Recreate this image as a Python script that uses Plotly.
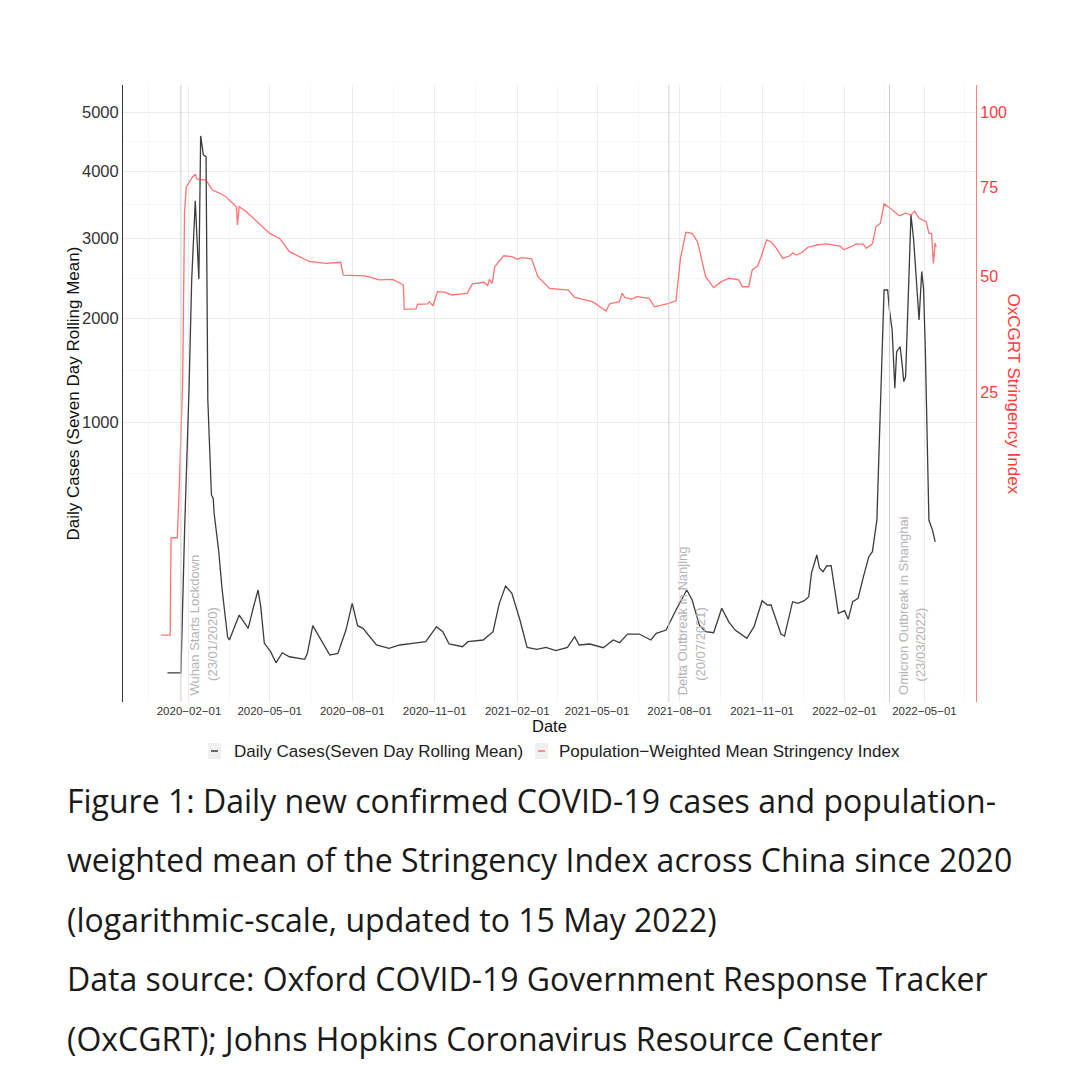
import numpy as np
import pandas as pd
import plotly.graph_objects as go

# ---------------- data ----------------
case_dates = [
    '2020-01-08', '2020-01-23', '2020-01-27', '2020-02-01', '2020-02-04', '2020-02-08',
    '2020-02-12', '2020-02-14', '2020-02-17', '2020-02-20', '2020-02-22', '2020-02-26',
    '2020-02-28', '2020-02-29', '2020-03-05', '2020-03-09', '2020-03-15', '2020-03-17',
    '2020-03-28', '2020-04-07', '2020-04-13', '2020-04-18', '2020-04-21', '2020-04-25',
    '2020-05-02', '2020-05-08', '2020-05-15', '2020-05-23', '2020-06-09', '2020-06-12',
    '2020-06-18', '2020-06-25', '2020-07-07', '2020-07-16', '2020-07-25', '2020-08-01',
    '2020-08-07', '2020-08-13', '2020-08-28', '2020-09-11', '2020-09-23', '2020-10-07',
    '2020-10-22', '2020-11-03', '2020-11-10', '2020-11-17', '2020-12-02', '2020-12-08',
    '2020-12-25', '2021-01-05', '2021-01-12', '2021-01-19', '2021-01-26', '2021-02-04',
    '2021-02-12', '2021-02-23', '2021-03-05', '2021-03-16', '2021-03-29', '2021-04-06',
    '2021-04-11', '2021-04-23', '2021-05-08', '2021-05-19', '2021-05-26', '2021-06-04',
    '2021-06-17', '2021-06-30', '2021-07-06', '2021-07-17', '2021-07-28', '2021-08-09',
    '2021-08-15', '2021-08-23', '2021-08-30', '2021-09-08', '2021-09-17', '2021-09-25',
    '2021-10-02', '2021-10-15', '2021-10-23', '2021-11-01', '2021-11-07', '2021-11-11',
    '2021-11-17', '2021-11-22', '2021-11-26', '2021-12-02', '2021-12-05', '2021-12-11',
    '2021-12-18', '2021-12-23', '2021-12-26', '2022-01-01', '2022-01-04', '2022-01-08',
    '2022-01-12', '2022-01-17', '2022-01-25', '2022-02-01', '2022-02-05', '2022-02-10',
    '2022-02-16', '2022-02-22', '2022-02-28', '2022-03-04', '2022-03-09', '2022-03-12',
    '2022-03-15', '2022-03-17', '2022-03-21', '2022-03-23', '2022-03-26', '2022-03-29',
    '2022-03-31', '2022-04-04', '2022-04-06', '2022-04-08', '2022-04-10', '2022-04-16',
    '2022-04-19', '2022-04-25', '2022-04-28', '2022-04-30', '2022-05-02', '2022-05-06',
    '2022-05-10', '2022-05-13',
]
case_values = [
    0, 0, 310, 1270, 2454, 3544,
    2462, 4583, 4264, 4236, 1183, 503,
    484, 405, 240, 109, 20.7, 17.1,
    53.1, 31.5, 69.5, 109, 69.5, 13.8,
    7.1, 1.6, 6.4, 4.1, 2.9, 6.0,
    35.3, 20.7, 5.0, 6.0, 29.1, 76.8,
    35.3, 31.5, 12.3, 9.5, 12.3, 13.8,
    15.4, 33.8, 26.9, 13.2, 10.8, 15.4,
    17.1, 26.9, 76.8, 119.8, 100.5, 44.3,
    10.3, 8.8, 10.3, 7.8, 10.3, 20.7,
    12.3, 13.2, 10.0, 17.1, 14.4, 23.9,
    23.9, 17.1, 24.8, 29.1, 62.7, 109,
    84.3, 36.3, 26.9, 25.6, 66.2, 41.0,
    29.1, 18.9, 33.8, 82.7, 73.1, 73.1,
    44.3, 23.9, 21.5, 59.4, 80.4, 76.8,
    82.7, 92.1, 157.4, 220.7, 173.7, 162.6,
    181.4, 182.4, 56.3, 61.3, 45.5, 80.4,
    88.3, 146.9, 214.4, 233.2, 371, 912,
    1640, 2330, 2330, 2093, 1869, 1287,
    1640, 1691, 1523, 1348, 1394, 3333,
    2979, 1979, 2559, 2351, 1657, 371,
    324, 273,
]

stringency_dates = [
    '2020-01-01', '2020-01-11', '2020-01-12', '2020-01-19', '2020-01-21', '2020-01-25',
    '2020-01-27', '2020-01-29', '2020-02-05', '2020-02-08', '2020-02-10', '2020-02-20',
    '2020-02-27', '2020-03-06', '2020-03-13', '2020-03-21', '2020-03-25', '2020-03-26',
    '2020-03-28', '2020-04-05', '2020-04-19', '2020-05-01', '2020-05-12', '2020-05-23',
    '2020-06-03', '2020-06-14', '2020-07-03', '2020-07-19', '2020-07-22', '2020-08-16',
    '2020-08-31', '2020-09-15', '2020-09-24', '2020-09-27', '2020-09-28', '2020-10-11',
    '2020-10-13', '2020-10-24', '2020-10-26', '2020-10-30', '2020-11-04', '2020-11-12',
    '2020-11-20', '2020-12-07', '2020-12-13', '2020-12-26', '2020-12-30', '2021-01-01',
    '2021-01-04', '2021-01-07', '2021-01-17', '2021-01-26', '2021-02-01', '2021-02-06',
    '2021-02-17', '2021-02-24', '2021-03-09', '2021-03-30', '2021-04-06', '2021-04-26',
    '2021-05-11', '2021-05-15', '2021-05-26', '2021-05-29', '2021-06-01', '2021-06-08',
    '2021-06-15', '2021-06-28', '2021-07-04', '2021-07-20', '2021-07-28', '2021-08-02',
    '2021-08-08', '2021-08-15', '2021-08-21', '2021-08-30', '2021-09-08', '2021-09-16',
    '2021-09-25', '2021-10-06', '2021-10-10', '2021-10-17', '2021-10-21', '2021-10-27',
    '2021-10-31', '2021-11-06', '2021-11-11', '2021-11-17', '2021-11-24', '2021-12-02',
    '2021-12-05', '2021-12-09', '2021-12-15', '2021-12-22', '2022-01-01', '2022-01-12',
    '2022-01-27', '2022-01-31', '2022-02-07', '2022-02-14', '2022-02-22', '2022-02-25',
    '2022-03-04', '2022-03-08', '2022-03-13', '2022-03-17', '2022-03-24', '2022-04-03',
    '2022-04-10', '2022-04-16', '2022-04-20', '2022-04-25', '2022-05-03', '2022-05-06',
    '2022-05-09', '2022-05-11', '2022-05-13', '2022-05-14',
]
stringency_values = [
    0.45, 0.45, 5.8, 5.8, 10.6, 27.3,
    67.2, 75.1, 78.2, 79.0, 77.5, 77.2,
    74.1, 73.2, 72.1, 70.1, 69.0, 63.8,
    69.1, 67.6, 64.3, 61.4, 60.0, 56.4,
    55.1, 53.8, 53.3, 53.6, 50.3, 50.1,
    49.1, 49.2, 48.2, 47.8, 42.0, 42.1,
    43.2, 43.3, 43.8, 42.8, 46.2, 46.1,
    45.4, 45.8, 48.1, 48.5, 47.7, 49.2,
    48.2, 52.5, 55.3, 55.1, 54.4, 54.8,
    54.5, 49.9, 47.0, 46.6, 44.8, 43.8,
    41.6, 43.3, 43.8, 45.8, 44.8, 44.4,
    45.0, 44.6, 42.6, 43.4, 44.0, 54.6,
    61.7, 61.4, 59.1, 49.9, 47.2, 48.6,
    49.5, 49.1, 47.4, 47.4, 51.6, 52.6,
    55.1, 59.6, 59.1, 57.3, 54.6, 55.3,
    56.1, 55.5, 56.1, 57.6, 58.2, 58.5,
    57.9, 56.9, 57.6, 58.5, 58.4, 57.3,
    58.5, 63.3, 64.3, 69.9, 68.6, 66.4,
    67.2, 66.7, 67.8, 65.7, 64.7, 61.4,
    61.4, 53.3, 58.7, 57.7,
]

event_dates = ['2020-01-23', '2021-07-20', '2022-03-23']
event_names = ['Wuhan Starts Lockdown', 'Delta Outbreak in Nanjing', 'Omicron Outbreak in Shanghai']
event_stamps = ['(23/01/2020)', '(20/07/2021)', '(23/03/2022)']

case_ticks = [1000, 2000, 3000, 4000, 5000]
stringency_ticks = [25, 50, 75, 100]
date_ticks = ['2020-02-01', '2020-05-01', '2020-08-01', '2020-11-01', '2021-02-01',
              '2021-05-01', '2021-08-01', '2021-11-01', '2022-02-01', '2022-05-01']

caption_lines = [
    'Figure 1: Daily new confirmed COVID-19 cases and population-',
    'weighted mean of the Stringency Index across China since 2020',
    '(logarithmic-scale, updated to 15 May 2022)',
    'Data source: Oxford COVID-19 Government Response Tracker',
    '(OxCGRT); Johns Hopkins Coronavirus Resource Center',
]

SEC = 50  # secondary axis: stringency = cases / 50, both on a square-root scale

# ---------------- geometry ----------------
# the page body adds an 8px offset, so the figure is drawn 8px smaller / shifted
BODY = 8
W = H = 1082 - BODY
ML, MT = 123 - BODY, 85 - BODY
PW, PH = 853, 617
MR, MB = W - ML - PW, H - MT - PH


def px(x):
    # screen pixel (reference) -> paper x
    return (x - BODY - ML) / PW


def py(y):
    # screen pixel (reference) -> paper y
    return (MT + PH - (y - BODY)) / PH


FONT = 'Liberation Sans, Arial, sans-serif'
RED_LINE = 'rgba(255,40,40,0.65)'
RED_TEXT = '#ff3a3a'
DARK = '#3c3c3c'

# sqrt transform (ggplot scale_y_sqrt)
y_cases = np.sqrt(np.array(case_values, dtype=float))
y_str = np.sqrt(np.array(stringency_values, dtype=float) * SEC)

major_sq = np.sqrt(np.array(case_ticks, dtype=float))
minor_sq = list((major_sq[:-1] + major_sq[1:]) / 2)
minor_sq = [major_sq[0] - (major_sq[1] - major_sq[0]) / 2] + minor_sq

dt = pd.to_datetime(date_ticks)
mids = [dt[i] + (dt[i + 1] - dt[i]) / 2 for i in range(len(dt) - 1)]
minor_dates = [dt[0] - (dt[1] - dt[0]) / 2] + mids + [dt[-1] + (dt[-1] - dt[-2]) / 2]

fig = go.Figure()
fig.add_trace(go.Scatter(
    x=pd.to_datetime(case_dates), y=y_cases, mode='lines',
    line=dict(color=DARK, width=1.3), name='Daily Cases(Seven Day Rolling Mean)',
    showlegend=False,
))
fig.add_trace(go.Scatter(
    x=pd.to_datetime(stringency_dates), y=y_str, mode='lines',
    line=dict(color=RED_LINE, width=1.3), name='Population\u2212Weighted Mean Stringency Index',
    showlegend=False,
))
# invisible trace to activate the right axis
fig.add_trace(go.Scatter(x=[None], y=[None], yaxis='y2', showlegend=False, hoverinfo='skip'))

yr = [-3.68, 74.12]
fig.update_layout(
    width=W, height=H,
    margin=dict(l=ML, r=MR, t=MT, b=MB),
    paper_bgcolor='white', plot_bgcolor='white',
    font=dict(family=FONT, color='#333'),
    xaxis=dict(
        type='date', range=['2019-11-19 10:00', '2022-06-27 12:00'],
        tickmode='array', tickvals=dt, ticktext=[d.replace('-', '\u2212') for d in date_ticks],
        tickfont=dict(size=11.5, color='#333'), ticks='', showline=False, zeroline=False,
        showgrid=True, gridcolor='#ececec', gridwidth=1,
        minor=dict(tickvals=minor_dates, showgrid=True, gridcolor='#f6f6f6', gridwidth=1),
    ),
    yaxis=dict(
        range=yr, tickmode='array', tickvals=major_sq, ticktext=[str(t) for t in case_ticks],
        tickfont=dict(size=16.5, color='#333'), ticks='', zeroline=False,
        showline=True, linecolor='#333', linewidth=1,
        showgrid=True, gridcolor='#ececec', gridwidth=1,
        minor=dict(tickvals=minor_sq, showgrid=True, gridcolor='#f6f6f6', gridwidth=1),
    ),
    yaxis2=dict(
        overlaying='y', side='right', range=yr, tickmode='array',
        tickvals=np.sqrt(np.array(stringency_ticks, dtype=float) * SEC),
        ticktext=[str(t) for t in stringency_ticks],
        tickfont=dict(size=16, color=RED_TEXT), ticks='', zeroline=False, showgrid=False,
        showline=True, linecolor='rgba(255,40,40,0.6)', linewidth=1.2,
    ),
)

shapes = []
ann = []
for d, name, stamp in zip(event_dates, event_names, event_stamps):
    shapes.append(dict(type='line', xref='x', yref='paper', x0=d, x1=d, y0=0, y1=1,
                       line=dict(color='#cfcfcf', width=1)))
    ann.append(dict(x=d, xref='x', y=py(697), yref='paper', text=name, showarrow=False,
                    textangle=-90, xanchor='center', yanchor='bottom', xshift=14,
                    font=dict(size=13, color='#b4b4b4', family=FONT)))
    ann.append(dict(x=d, xref='x', y=py(683), yref='paper', text=stamp, showarrow=False,
                    textangle=-90, xanchor='center', yanchor='bottom', xshift=31,
                    font=dict(size=13, color='#b4b4b4', family=FONT)))

# axis titles
ann.append(dict(x=px(73), y=0.5, xref='paper', yref='paper', text='Daily Cases (Seven Day Rolling Mean)',
                showarrow=False, textangle=-90, xanchor='center', yanchor='middle',
                font=dict(size=17, color='#111', family=FONT)))
ann.append(dict(x=px(1013), y=0.5, xref='paper', yref='paper', text='OxCGRT Stringency Index',
                showarrow=False, textangle=90, xanchor='center', yanchor='middle',
                font=dict(size=17, color=RED_TEXT, family=FONT)))
ann.append(dict(x=0.5, y=py(726), xref='paper', yref='paper', text='Date',
                showarrow=False, xanchor='center', yanchor='middle',
                font=dict(size=16.5, color='#111', family=FONT)))

# legend (small ggplot-style keys)
legend_items = [(fig.data[0].name, DARK, 208, 232), (fig.data[1].name, RED_LINE, 535, 557)]
for label, col, kx, tx in legend_items:
    shapes.append(dict(type='rect', xref='paper', yref='paper', x0=px(kx), x1=px(kx + 13),
                       y0=py(759), y1=py(743), fillcolor='#f0f0f0', line=dict(width=0)))
    shapes.append(dict(type='line', xref='paper', yref='paper', x0=px(kx + 3), x1=px(kx + 10),
                       y0=py(751), y1=py(751), line=dict(color=col, width=1.5)))
    ann.append(dict(x=px(tx), y=py(751), xref='paper', yref='paper', text=label, showarrow=False,
                    xanchor='left', yanchor='middle', font=dict(size=17, color='#222', family=FONT)))

# caption
for i, line in enumerate(caption_lines):
    ann.append(dict(x=px(65), y=py(800 + 59.5 * i), xref='paper', yref='paper', text=line,
                    showarrow=False, xanchor='left', yanchor='middle',
                    font=dict(size=32, color='#1a1a1a', family='Open Sans, sans-serif')))

fig.update_layout(shapes=shapes, annotations=ann)

fig.write_html('out.html')
